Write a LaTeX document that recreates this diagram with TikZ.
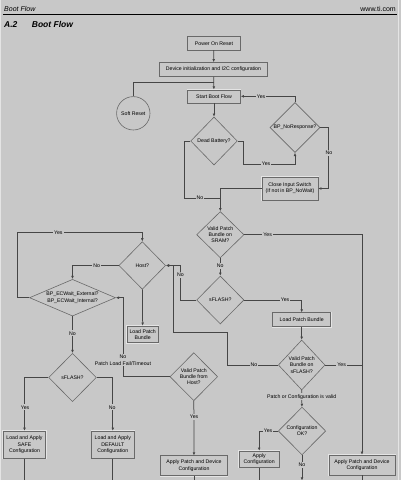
\documentclass[tikz,border=0pt]{standalone}
\usepackage{fontspec}
\setmainfont{Liberation Sans}
\usetikzlibrary{shapes.geometric,arrows.meta}
\definecolor{bg}{RGB}{200,200,200}
\definecolor{lncol}{RGB}{70,70,70}
\definecolor{dm}{RGB}{105,105,105}
\definecolor{lt}{RGB}{228,228,228}
\begin{document}
\begin{tikzpicture}[x=1pt,y=-1pt,
  font=\fontsize{5.2}{6.2}\selectfont,
  box/.style={rectangle, draw=dm, line width=0.5pt, preaction={draw=lt,line width=1.8pt}, fill=bg, inner sep=0pt, align=center},
  dia/.style={diamond, draw=dm, line width=0.6pt, fill=bg, inner sep=0pt, align=center},
  ln/.style={draw=lncol, line width=0.75pt},
  arr/.style={ln, -{Latex[length=3.2pt,width=2.8pt]}},
  lbl/.style={fill=bg, inner sep=1pt, align=center}]
\useasboundingbox (0,0) rectangle (401,480);
\fill[bg] (0,0) rectangle (401,480);
\draw[lt, line width=0.9pt] (0.5,0) -- (0.5,480);
\draw[lt, line width=0.9pt] (398.8,0) -- (398.8,480);

% header
\node[anchor=west, inner sep=0pt, font=\fontsize{7}{8}\selectfont\itshape] (hdr) at (4,8.6) {Boot Flow};
\node[anchor=east, inner sep=0pt, font=\fontsize{7}{8}\selectfont] (web) at (396,9.2) {www.ti.com};
\coordinate (rl) at (3,14.5);
\coordinate (rr) at (396.5,14.5);
\draw[black, line width=1.4pt] (rl) -- (rr);
\node[anchor=west, inner sep=0pt, font=\fontsize{8.5}{10}\selectfont\bfseries\itshape] (secn) at (4,24.6) {A.2};
\node[anchor=west, inner sep=0pt, font=\fontsize{8.5}{10}\selectfont\bfseries\itshape] (sect) at (31.7,24.6) {Boot Flow};

% nodes
\node[box, minimum width=53pt, minimum height=13.3pt] (por) at (214,43.3) {Power On Reset};
\node[box, minimum width=108pt, minimum height=14pt] (init) at (213.5,69.5) {Device initialization and I2C configuration};
\node[box, minimum width=53pt, minimum height=13pt] (sbf) at (214,96.3) {Start Boot Flow};
\node[circle, draw=dm, line width=0.6pt, fill=bg, minimum size=33.4pt, inner sep=0pt] (soft) at (133.3,113.3) {Soft Reset};
\node[dia, minimum width=46.7pt, minimum height=48pt] (dead) at (214,141) {Dead Battery?};
\node[dia, minimum width=50pt, minimum height=50pt] (bpnr) at (295,127.5) {BP\_NoResponse?};
\node[box, minimum width=56pt, minimum height=23pt] (cis) at (290,188.5) {Close Input Switch\\(If not in BP\_NoWait)};
\node[dia, minimum width=47.3pt, minimum height=46.3pt] (vsram) at (220.3,234.7) {Valid Patch\\Bundle on\\SRAM?};
\node[dia, minimum width=47.3pt, minimum height=48pt] (sf1) at (220.3,300) {sFLASH?};
\node[box, minimum width=58pt, minimum height=14pt] (lpb1) at (301.7,319.7) {Load Patch Bundle};
\node[dia, minimum width=46.7pt, minimum height=47.6pt] (host) at (142.3,265.5) {Host?};
\node[box, minimum width=31pt, minimum height=16.7pt] (lpb2) at (142.7,334.3) {Load Patch\\Bundle};
\node[dia, shape aspect=2.35, minimum width=86pt, minimum height=36.7pt] (ecw) at (72.5,297.7) {BP\_ECWait\_External?\\BP\_ECWait\_Internal?};
\node[dia, minimum width=46.7pt, minimum height=50pt] (vsf) at (301.7,365) {Valid Patch\\Bundle on\\sFLASH?};
\node[dia, minimum width=47.4pt, minimum height=47.7pt] (cfg) at (302,431) {Configuration\\OK?};
\node[box, minimum width=40.3pt, minimum height=16.3pt] (acfg) at (259.2,459.2) {Apply\\Configuration};
\node[box, minimum width=66pt, minimum height=20pt] (apR) at (362,465) {Apply Patch and Device\\Configuration};
\node[dia, minimum width=47.7pt, minimum height=48pt] (vh) at (193.8,376.7) {Valid Patch\\Bundle from\\Host?};
\node[box, minimum width=66.7pt, minimum height=20pt] (apM) at (194,465.7) {Apply Patch and Device\\Configuration};
\node[dia, minimum width=47.7pt, minimum height=48.3pt] (sf2) at (72.5,377.5) {sFLASH?};
\node[box, minimum width=42.3pt, minimum height=27.3pt] (safe) at (24.5,444.7) {Load and Apply\\SAFE\\Configuration};
\node[box, minimum width=42.3pt, minimum height=27.3pt] (dflt) at (112.8,444.7) {Load and Apply\\DEFAULT\\Configuration};

% free ends
\coordinate (j1) at (214,82);
\coordinate (e1) at (302,480.5);
\coordinate (e2) at (259.2,481);
\coordinate (e3) at (362,481);
\coordinate (e4) at (194,481);
\coordinate (e5) at (24.5,481);
\coordinate (e6) at (112.8,481);

% connectors
\draw[arr] (por) -- (init);
\draw[arr] (init) -- (sbf);
\draw[ln] (soft.north) |- (j1);
\draw[arr] (sbf) -- (dead);
\draw[arr] (dead.east) -| (243,164) -| (bpnr.south);
\draw[arr] (bpnr.north) |- (sbf.east);
\draw[arr] (bpnr.east) -- (328.7,127.5) |- (cis.east);
\draw[ln] (dead.west) -- (184,141) |- (vsram.north |- 0,198);
\draw[arr] (cis.west) -| (vsram.north);
\draw[arr] (vsram.east) -| (apR.north);
\draw[arr] (vsram) -- (sf1);
\draw[arr] (sf1.east) -| (lpb1.north);
\draw[arr] (lpb1) -- (vsf);
\draw[arr] (sf1.west) -- (180,300) |- (host.east);
\draw[arr] (vsf.west) -- (227.3,365) |- (173.3,332.7) |- (host.east);
\draw[ln] (vsf.east) -- (apR.north |- vsf.east);
\draw[arr] (vsf) -- (cfg);
\draw[arr] (cfg.west) -| (acfg.north);
\draw[arr] (cfg.south) -- (e1);
\draw[ln] (acfg.south) -- (e2);
\draw[ln] (apR.south) -- (e3);
\draw[arr] (vh) -- (apM);
\draw[ln] (apM.south) -- (e4);
\draw[arr] (vh.west) -- (123,376.7) |- (ecw.east);
\draw[arr] (host) -- (lpb2);
\draw[arr] (host.west) -| (ecw.north);
\draw[arr] (ecw.west) -- (17.3,297.7) -- (17.3,232.3) -| (host.north);
\draw[arr] (ecw) -- (sf2);
\draw[arr] (sf2.west) -| (safe.north);
\draw[arr] (sf2.east) -| (dflt.north);
\draw[ln] (safe.south) -- (e5);
\draw[ln] (dflt.south) -- (e6);

% labels
\node[lbl] (l1) at (266,164) {Yes};
\node[lbl] (l2) at (261,96.3) {Yes};
\node[lbl] (l3) at (329,153) {No};
\node[lbl] (l4) at (200,198) {No};
\node[lbl] (l5) at (267.7,234.7) {Yes};
\node[lbl] (l6) at (220.3,266) {No};
\node[lbl] (l7) at (285,300) {Yes};
\node[lbl] (l8) at (180.5,275) {No};
\node[lbl] (l9) at (254,365) {No};
\node[lbl] (l10) at (341.7,365) {Yes};
\node[lbl] (l11) at (301.7,396.7) {Patch or Configuration is valid};
\node[lbl] (l12) at (268,431) {Yes};
\node[lbl] (l13) at (302,465) {No};
\node[lbl] (l14) at (194,417) {Yes};
\node[lbl, font=\fontsize{5.2}{6.6}\selectfont] (l15) at (123,360) {No\\Patch Load Fail/Timeout};
\node[lbl] (l16) at (96.7,265.5) {No};
\node[lbl] (l17) at (58.3,232.3) {Yes};
\node[lbl] (l18) at (72.5,333.3) {No};
\node[lbl] (l19) at (25,407.3) {Yes};
\node[lbl] (l20) at (112.3,407.3) {No};
\end{tikzpicture}
\end{document}
